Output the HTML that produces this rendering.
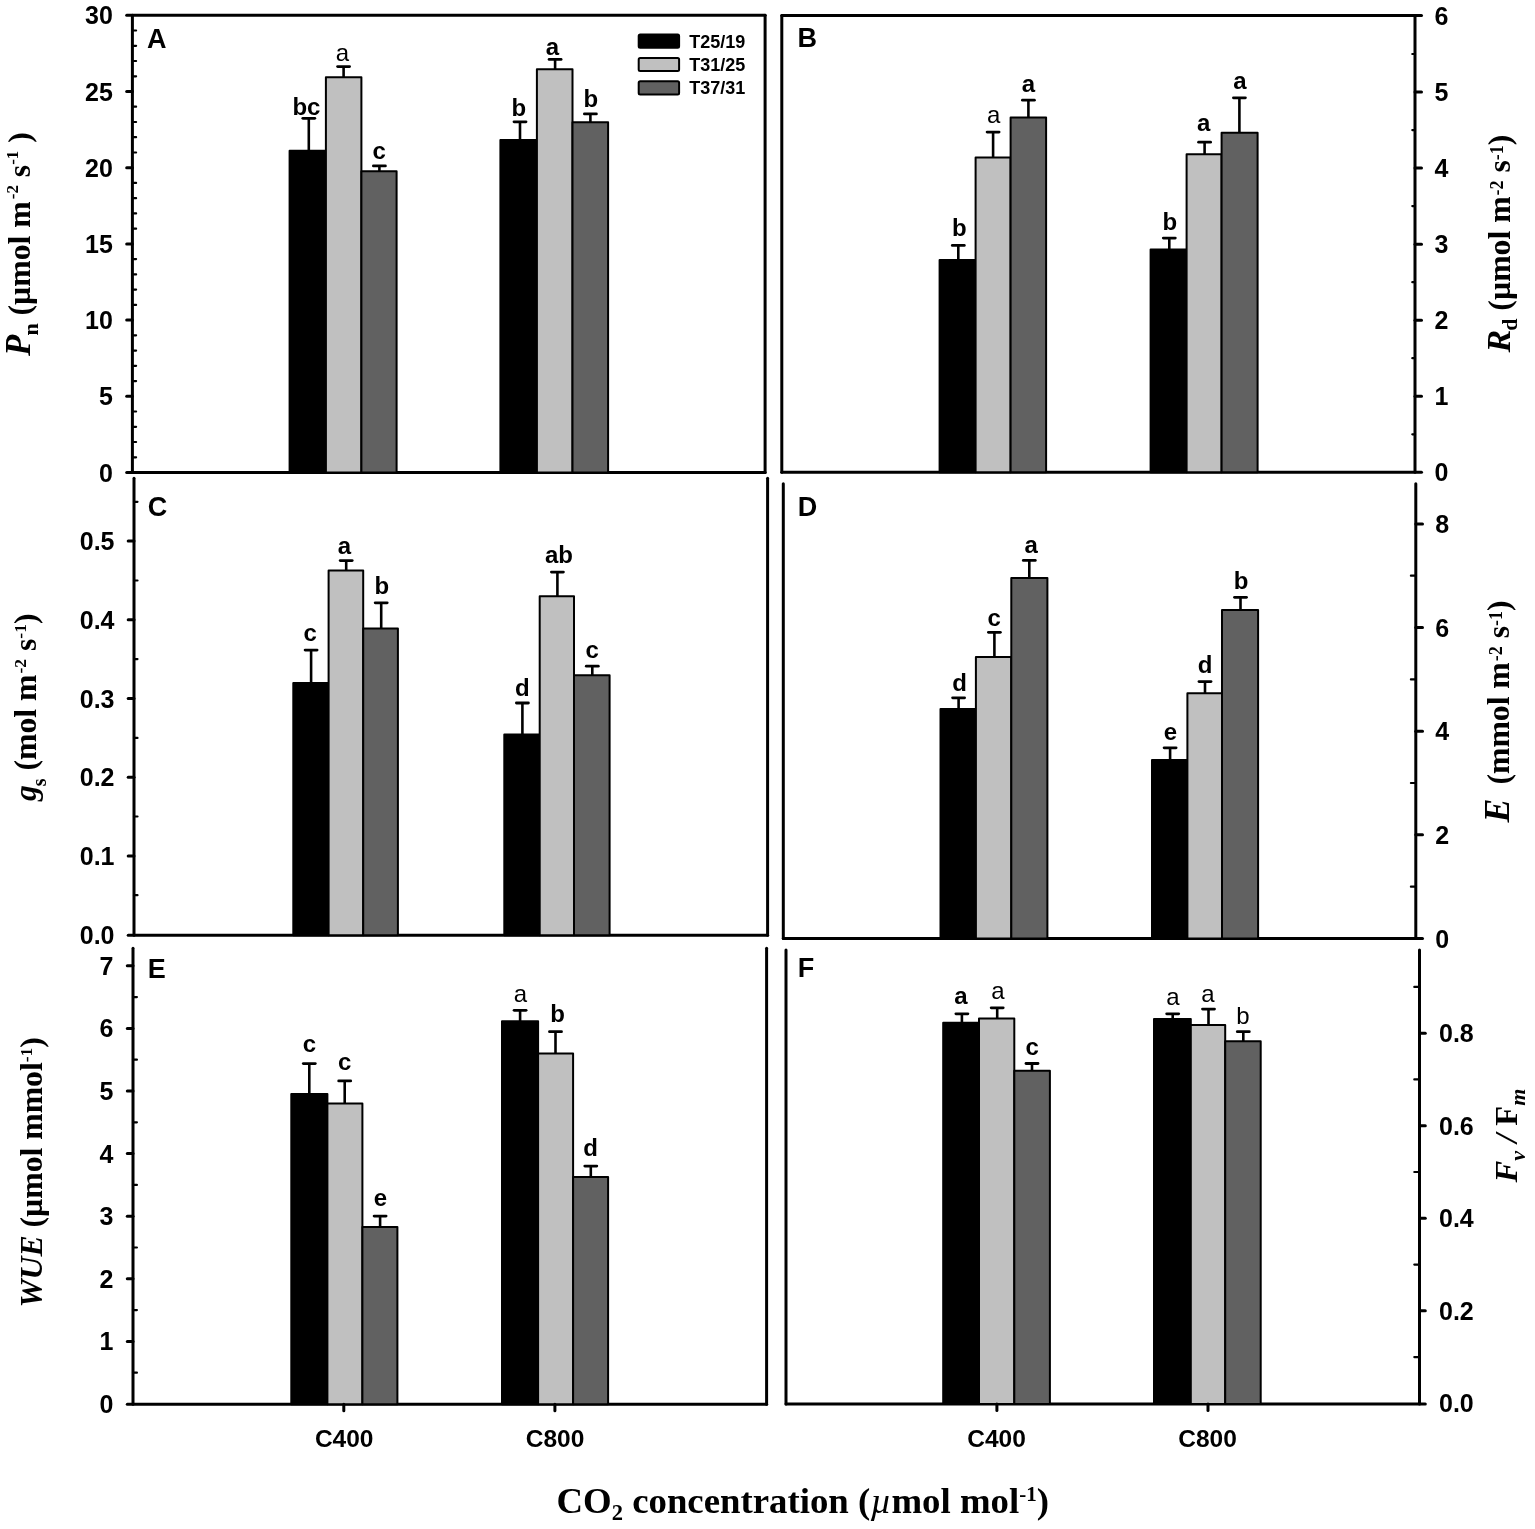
<!DOCTYPE html>
<html><head><meta charset="utf-8"><title>Figure</title>
<style>
html,body{margin:0;padding:0;background:#fff;}
body{width:1535px;height:1529px;overflow:hidden;}
svg{display:block;}
text{fill:#000;}
</style></head>
<body>
<svg width="1535" height="1529" viewBox="0 0 1535 1529">
<rect x="0" y="0" width="1535" height="1529" fill="#fff"/>
<line x1="132.4" y1="15.3" x2="132.4" y2="472.5" stroke="#000" stroke-width="3.0" stroke-linecap="round"/>
<line x1="765.1" y1="15.3" x2="765.1" y2="472.5" stroke="#000" stroke-width="3.0" stroke-linecap="round"/>
<line x1="126.7" y1="472.5" x2="765.1" y2="472.5" stroke="#000" stroke-width="3.0" stroke-linecap="round"/>
<line x1="126.7" y1="15.3" x2="765.1" y2="15.3" stroke="#000" stroke-width="3.0" stroke-linecap="round"/>
<text x="112.9" y="481.5" font-size="25" text-anchor="end" font-weight="bold" font-family="'Liberation Sans', Arial, sans-serif" >0</text>
<line x1="132.4" y1="457.3" x2="136.1" y2="457.3" stroke="#000" stroke-width="2.2" stroke-linecap="round"/>
<line x1="132.4" y1="442.0" x2="136.1" y2="442.0" stroke="#000" stroke-width="2.2" stroke-linecap="round"/>
<line x1="132.4" y1="426.8" x2="136.1" y2="426.8" stroke="#000" stroke-width="2.2" stroke-linecap="round"/>
<line x1="132.4" y1="411.5" x2="136.1" y2="411.5" stroke="#000" stroke-width="2.2" stroke-linecap="round"/>
<line x1="132.4" y1="396.3" x2="126.7" y2="396.3" stroke="#000" stroke-width="3.0" stroke-linecap="round"/>
<text x="112.9" y="405.3" font-size="25" text-anchor="end" font-weight="bold" font-family="'Liberation Sans', Arial, sans-serif" >5</text>
<line x1="132.4" y1="381.1" x2="136.1" y2="381.1" stroke="#000" stroke-width="2.2" stroke-linecap="round"/>
<line x1="132.4" y1="365.8" x2="136.1" y2="365.8" stroke="#000" stroke-width="2.2" stroke-linecap="round"/>
<line x1="132.4" y1="350.6" x2="136.1" y2="350.6" stroke="#000" stroke-width="2.2" stroke-linecap="round"/>
<line x1="132.4" y1="335.3" x2="136.1" y2="335.3" stroke="#000" stroke-width="2.2" stroke-linecap="round"/>
<line x1="132.4" y1="320.1" x2="126.7" y2="320.1" stroke="#000" stroke-width="3.0" stroke-linecap="round"/>
<text x="112.9" y="329.1" font-size="25" text-anchor="end" font-weight="bold" font-family="'Liberation Sans', Arial, sans-serif" >10</text>
<line x1="132.4" y1="304.9" x2="136.1" y2="304.9" stroke="#000" stroke-width="2.2" stroke-linecap="round"/>
<line x1="132.4" y1="289.6" x2="136.1" y2="289.6" stroke="#000" stroke-width="2.2" stroke-linecap="round"/>
<line x1="132.4" y1="274.4" x2="136.1" y2="274.4" stroke="#000" stroke-width="2.2" stroke-linecap="round"/>
<line x1="132.4" y1="259.1" x2="136.1" y2="259.1" stroke="#000" stroke-width="2.2" stroke-linecap="round"/>
<line x1="132.4" y1="243.9" x2="126.7" y2="243.9" stroke="#000" stroke-width="3.0" stroke-linecap="round"/>
<text x="112.9" y="252.9" font-size="25" text-anchor="end" font-weight="bold" font-family="'Liberation Sans', Arial, sans-serif" >15</text>
<line x1="132.4" y1="228.7" x2="136.1" y2="228.7" stroke="#000" stroke-width="2.2" stroke-linecap="round"/>
<line x1="132.4" y1="213.4" x2="136.1" y2="213.4" stroke="#000" stroke-width="2.2" stroke-linecap="round"/>
<line x1="132.4" y1="198.2" x2="136.1" y2="198.2" stroke="#000" stroke-width="2.2" stroke-linecap="round"/>
<line x1="132.4" y1="182.9" x2="136.1" y2="182.9" stroke="#000" stroke-width="2.2" stroke-linecap="round"/>
<line x1="132.4" y1="167.7" x2="126.7" y2="167.7" stroke="#000" stroke-width="3.0" stroke-linecap="round"/>
<text x="112.9" y="176.7" font-size="25" text-anchor="end" font-weight="bold" font-family="'Liberation Sans', Arial, sans-serif" >20</text>
<line x1="132.4" y1="152.5" x2="136.1" y2="152.5" stroke="#000" stroke-width="2.2" stroke-linecap="round"/>
<line x1="132.4" y1="137.2" x2="136.1" y2="137.2" stroke="#000" stroke-width="2.2" stroke-linecap="round"/>
<line x1="132.4" y1="122.0" x2="136.1" y2="122.0" stroke="#000" stroke-width="2.2" stroke-linecap="round"/>
<line x1="132.4" y1="106.7" x2="136.1" y2="106.7" stroke="#000" stroke-width="2.2" stroke-linecap="round"/>
<line x1="132.4" y1="91.5" x2="126.7" y2="91.5" stroke="#000" stroke-width="3.0" stroke-linecap="round"/>
<text x="112.9" y="100.5" font-size="25" text-anchor="end" font-weight="bold" font-family="'Liberation Sans', Arial, sans-serif" >25</text>
<line x1="132.4" y1="76.3" x2="136.1" y2="76.3" stroke="#000" stroke-width="2.2" stroke-linecap="round"/>
<line x1="132.4" y1="61.0" x2="136.1" y2="61.0" stroke="#000" stroke-width="2.2" stroke-linecap="round"/>
<line x1="132.4" y1="45.8" x2="136.1" y2="45.8" stroke="#000" stroke-width="2.2" stroke-linecap="round"/>
<line x1="132.4" y1="30.5" x2="136.1" y2="30.5" stroke="#000" stroke-width="2.2" stroke-linecap="round"/>
<text x="112.9" y="24.3" font-size="25" text-anchor="end" font-weight="bold" font-family="'Liberation Sans', Arial, sans-serif" >30</text>
<text x="147.0" y="47.7" font-size="27" text-anchor="start" font-weight="bold" font-family="'Liberation Sans', Arial, sans-serif" >A</text>
<line x1="781.8" y1="15.5" x2="781.8" y2="472.3" stroke="#000" stroke-width="3.0" stroke-linecap="round"/>
<line x1="1415.0" y1="15.5" x2="1415.0" y2="472.3" stroke="#000" stroke-width="3.0" stroke-linecap="round"/>
<line x1="781.8" y1="472.3" x2="1421.5" y2="472.3" stroke="#000" stroke-width="3.0" stroke-linecap="round"/>
<line x1="781.8" y1="15.5" x2="1421.5" y2="15.5" stroke="#000" stroke-width="3.0" stroke-linecap="round"/>
<text x="1434.5" y="481.3" font-size="25" text-anchor="start" font-weight="bold" font-family="'Liberation Sans', Arial, sans-serif" >0</text>
<line x1="1415.0" y1="434.3" x2="1412.3" y2="434.3" stroke="#000" stroke-width="2.2" stroke-linecap="round"/>
<line x1="1415.0" y1="396.2" x2="1421.5" y2="396.2" stroke="#000" stroke-width="3.0" stroke-linecap="round"/>
<text x="1434.5" y="405.2" font-size="25" text-anchor="start" font-weight="bold" font-family="'Liberation Sans', Arial, sans-serif" >1</text>
<line x1="1415.0" y1="358.2" x2="1412.3" y2="358.2" stroke="#000" stroke-width="2.2" stroke-linecap="round"/>
<line x1="1415.0" y1="320.2" x2="1421.5" y2="320.2" stroke="#000" stroke-width="3.0" stroke-linecap="round"/>
<text x="1434.5" y="329.2" font-size="25" text-anchor="start" font-weight="bold" font-family="'Liberation Sans', Arial, sans-serif" >2</text>
<line x1="1415.0" y1="282.2" x2="1412.3" y2="282.2" stroke="#000" stroke-width="2.2" stroke-linecap="round"/>
<line x1="1415.0" y1="244.2" x2="1421.5" y2="244.2" stroke="#000" stroke-width="3.0" stroke-linecap="round"/>
<text x="1434.5" y="253.2" font-size="25" text-anchor="start" font-weight="bold" font-family="'Liberation Sans', Arial, sans-serif" >3</text>
<line x1="1415.0" y1="206.1" x2="1412.3" y2="206.1" stroke="#000" stroke-width="2.2" stroke-linecap="round"/>
<line x1="1415.0" y1="168.1" x2="1421.5" y2="168.1" stroke="#000" stroke-width="3.0" stroke-linecap="round"/>
<text x="1434.5" y="177.1" font-size="25" text-anchor="start" font-weight="bold" font-family="'Liberation Sans', Arial, sans-serif" >4</text>
<line x1="1415.0" y1="130.1" x2="1412.3" y2="130.1" stroke="#000" stroke-width="2.2" stroke-linecap="round"/>
<line x1="1415.0" y1="92.1" x2="1421.5" y2="92.1" stroke="#000" stroke-width="3.0" stroke-linecap="round"/>
<text x="1434.5" y="101.1" font-size="25" text-anchor="start" font-weight="bold" font-family="'Liberation Sans', Arial, sans-serif" >5</text>
<line x1="1415.0" y1="54.0" x2="1412.3" y2="54.0" stroke="#000" stroke-width="2.2" stroke-linecap="round"/>
<text x="1434.5" y="25.0" font-size="25" text-anchor="start" font-weight="bold" font-family="'Liberation Sans', Arial, sans-serif" >6</text>
<text x="797.4" y="47.4" font-size="27" text-anchor="start" font-weight="bold" font-family="'Liberation Sans', Arial, sans-serif" >B</text>
<line x1="134.0" y1="478.3" x2="134.0" y2="935.2" stroke="#000" stroke-width="3.0" stroke-linecap="round"/>
<line x1="767.6" y1="478.3" x2="767.6" y2="935.2" stroke="#000" stroke-width="3.0" stroke-linecap="round"/>
<line x1="128.2" y1="935.2" x2="767.6" y2="935.2" stroke="#000" stroke-width="3.0" stroke-linecap="round"/>
<text x="114.5" y="943.6" font-size="25" text-anchor="end" font-weight="bold" font-family="'Liberation Sans', Arial, sans-serif" >0.0</text>
<line x1="134.0" y1="895.2" x2="137.5" y2="895.2" stroke="#000" stroke-width="2.2" stroke-linecap="round"/>
<line x1="134.0" y1="855.9" x2="128.2" y2="855.9" stroke="#000" stroke-width="3.0" stroke-linecap="round"/>
<text x="114.5" y="864.9" font-size="25" text-anchor="end" font-weight="bold" font-family="'Liberation Sans', Arial, sans-serif" >0.1</text>
<line x1="134.0" y1="816.5" x2="137.5" y2="816.5" stroke="#000" stroke-width="2.2" stroke-linecap="round"/>
<line x1="134.0" y1="777.2" x2="128.2" y2="777.2" stroke="#000" stroke-width="3.0" stroke-linecap="round"/>
<text x="114.5" y="786.2" font-size="25" text-anchor="end" font-weight="bold" font-family="'Liberation Sans', Arial, sans-serif" >0.2</text>
<line x1="134.0" y1="737.9" x2="137.5" y2="737.9" stroke="#000" stroke-width="2.2" stroke-linecap="round"/>
<line x1="134.0" y1="698.5" x2="128.2" y2="698.5" stroke="#000" stroke-width="3.0" stroke-linecap="round"/>
<text x="114.5" y="707.5" font-size="25" text-anchor="end" font-weight="bold" font-family="'Liberation Sans', Arial, sans-serif" >0.3</text>
<line x1="134.0" y1="659.1" x2="137.5" y2="659.1" stroke="#000" stroke-width="2.2" stroke-linecap="round"/>
<line x1="134.0" y1="619.8" x2="128.2" y2="619.8" stroke="#000" stroke-width="3.0" stroke-linecap="round"/>
<text x="114.5" y="628.8" font-size="25" text-anchor="end" font-weight="bold" font-family="'Liberation Sans', Arial, sans-serif" >0.4</text>
<line x1="134.0" y1="580.5" x2="137.5" y2="580.5" stroke="#000" stroke-width="2.2" stroke-linecap="round"/>
<line x1="134.0" y1="541.1" x2="128.2" y2="541.1" stroke="#000" stroke-width="3.0" stroke-linecap="round"/>
<text x="114.5" y="550.1" font-size="25" text-anchor="end" font-weight="bold" font-family="'Liberation Sans', Arial, sans-serif" >0.5</text>
<line x1="134.0" y1="501.8" x2="137.5" y2="501.8" stroke="#000" stroke-width="2.2" stroke-linecap="round"/>
<text x="147.7" y="515.9" font-size="27" text-anchor="start" font-weight="bold" font-family="'Liberation Sans', Arial, sans-serif" >C</text>
<line x1="783.3" y1="483.8" x2="783.3" y2="938.6" stroke="#000" stroke-width="3.0" stroke-linecap="round"/>
<line x1="1415.8" y1="483.8" x2="1415.8" y2="938.6" stroke="#000" stroke-width="3.0" stroke-linecap="round"/>
<line x1="783.3" y1="938.6" x2="1422.5" y2="938.6" stroke="#000" stroke-width="3.0" stroke-linecap="round"/>
<text x="1435.3" y="947.5" font-size="25" text-anchor="start" font-weight="bold" font-family="'Liberation Sans', Arial, sans-serif" >0</text>
<line x1="1415.8" y1="886.7" x2="1410.9" y2="886.7" stroke="#000" stroke-width="2.2" stroke-linecap="round"/>
<line x1="1415.8" y1="834.8" x2="1422.5" y2="834.8" stroke="#000" stroke-width="3.0" stroke-linecap="round"/>
<text x="1435.3" y="843.8" font-size="25" text-anchor="start" font-weight="bold" font-family="'Liberation Sans', Arial, sans-serif" >2</text>
<line x1="1415.8" y1="783.0" x2="1410.9" y2="783.0" stroke="#000" stroke-width="2.2" stroke-linecap="round"/>
<line x1="1415.8" y1="731.2" x2="1422.5" y2="731.2" stroke="#000" stroke-width="3.0" stroke-linecap="round"/>
<text x="1435.3" y="740.2" font-size="25" text-anchor="start" font-weight="bold" font-family="'Liberation Sans', Arial, sans-serif" >4</text>
<line x1="1415.8" y1="679.4" x2="1410.9" y2="679.4" stroke="#000" stroke-width="2.2" stroke-linecap="round"/>
<line x1="1415.8" y1="627.5" x2="1422.5" y2="627.5" stroke="#000" stroke-width="3.0" stroke-linecap="round"/>
<text x="1435.3" y="636.5" font-size="25" text-anchor="start" font-weight="bold" font-family="'Liberation Sans', Arial, sans-serif" >6</text>
<line x1="1415.8" y1="575.7" x2="1410.9" y2="575.7" stroke="#000" stroke-width="2.2" stroke-linecap="round"/>
<line x1="1415.8" y1="523.9" x2="1422.5" y2="523.9" stroke="#000" stroke-width="3.0" stroke-linecap="round"/>
<text x="1435.3" y="532.9" font-size="25" text-anchor="start" font-weight="bold" font-family="'Liberation Sans', Arial, sans-serif" >8</text>
<text x="797.7" y="515.7" font-size="27" text-anchor="start" font-weight="bold" font-family="'Liberation Sans', Arial, sans-serif" >D</text>
<line x1="133.0" y1="948.2" x2="133.0" y2="1404.3" stroke="#000" stroke-width="3.0" stroke-linecap="round"/>
<line x1="766.6" y1="948.2" x2="766.6" y2="1404.3" stroke="#000" stroke-width="3.0" stroke-linecap="round"/>
<line x1="127.3" y1="1404.3" x2="766.6" y2="1404.3" stroke="#000" stroke-width="3.0" stroke-linecap="round"/>
<text x="113.5" y="1413.0" font-size="25" text-anchor="end" font-weight="bold" font-family="'Liberation Sans', Arial, sans-serif" >0</text>
<line x1="133.0" y1="1372.7" x2="136.9" y2="1372.7" stroke="#000" stroke-width="2.2" stroke-linecap="round"/>
<line x1="133.0" y1="1341.4" x2="127.3" y2="1341.4" stroke="#000" stroke-width="3.0" stroke-linecap="round"/>
<text x="113.5" y="1350.4" font-size="25" text-anchor="end" font-weight="bold" font-family="'Liberation Sans', Arial, sans-serif" >1</text>
<line x1="133.0" y1="1310.1" x2="136.9" y2="1310.1" stroke="#000" stroke-width="2.2" stroke-linecap="round"/>
<line x1="133.0" y1="1278.8" x2="127.3" y2="1278.8" stroke="#000" stroke-width="3.0" stroke-linecap="round"/>
<text x="113.5" y="1287.8" font-size="25" text-anchor="end" font-weight="bold" font-family="'Liberation Sans', Arial, sans-serif" >2</text>
<line x1="133.0" y1="1247.5" x2="136.9" y2="1247.5" stroke="#000" stroke-width="2.2" stroke-linecap="round"/>
<line x1="133.0" y1="1216.2" x2="127.3" y2="1216.2" stroke="#000" stroke-width="3.0" stroke-linecap="round"/>
<text x="113.5" y="1225.2" font-size="25" text-anchor="end" font-weight="bold" font-family="'Liberation Sans', Arial, sans-serif" >3</text>
<line x1="133.0" y1="1184.9" x2="136.9" y2="1184.9" stroke="#000" stroke-width="2.2" stroke-linecap="round"/>
<line x1="133.0" y1="1153.6" x2="127.3" y2="1153.6" stroke="#000" stroke-width="3.0" stroke-linecap="round"/>
<text x="113.5" y="1162.6" font-size="25" text-anchor="end" font-weight="bold" font-family="'Liberation Sans', Arial, sans-serif" >4</text>
<line x1="133.0" y1="1122.3" x2="136.9" y2="1122.3" stroke="#000" stroke-width="2.2" stroke-linecap="round"/>
<line x1="133.0" y1="1091.0" x2="127.3" y2="1091.0" stroke="#000" stroke-width="3.0" stroke-linecap="round"/>
<text x="113.5" y="1100.0" font-size="25" text-anchor="end" font-weight="bold" font-family="'Liberation Sans', Arial, sans-serif" >5</text>
<line x1="133.0" y1="1059.7" x2="136.9" y2="1059.7" stroke="#000" stroke-width="2.2" stroke-linecap="round"/>
<line x1="133.0" y1="1028.4" x2="127.3" y2="1028.4" stroke="#000" stroke-width="3.0" stroke-linecap="round"/>
<text x="113.5" y="1037.4" font-size="25" text-anchor="end" font-weight="bold" font-family="'Liberation Sans', Arial, sans-serif" >6</text>
<line x1="133.0" y1="997.1" x2="136.9" y2="997.1" stroke="#000" stroke-width="2.2" stroke-linecap="round"/>
<line x1="133.0" y1="965.8" x2="127.3" y2="965.8" stroke="#000" stroke-width="3.0" stroke-linecap="round"/>
<text x="113.5" y="974.8" font-size="25" text-anchor="end" font-weight="bold" font-family="'Liberation Sans', Arial, sans-serif" >7</text>
<text x="147.8" y="977.5" font-size="27" text-anchor="start" font-weight="bold" font-family="'Liberation Sans', Arial, sans-serif" >E</text>
<line x1="786.0" y1="949.9" x2="786.0" y2="1404.0" stroke="#000" stroke-width="3.0" stroke-linecap="round"/>
<line x1="1419.5" y1="949.9" x2="1419.5" y2="1404.0" stroke="#000" stroke-width="3.0" stroke-linecap="round"/>
<line x1="786.0" y1="1404.0" x2="1425.3" y2="1404.0" stroke="#000" stroke-width="3.0" stroke-linecap="round"/>
<text x="1439.0" y="1412.4" font-size="25" text-anchor="start" font-weight="bold" font-family="'Liberation Sans', Arial, sans-serif" >0.0</text>
<line x1="1419.5" y1="1357.1" x2="1414.3" y2="1357.1" stroke="#000" stroke-width="2.2" stroke-linecap="round"/>
<line x1="1419.5" y1="1310.8" x2="1425.3" y2="1310.8" stroke="#000" stroke-width="3.0" stroke-linecap="round"/>
<text x="1439.0" y="1319.8" font-size="25" text-anchor="start" font-weight="bold" font-family="'Liberation Sans', Arial, sans-serif" >0.2</text>
<line x1="1419.5" y1="1264.6" x2="1414.3" y2="1264.6" stroke="#000" stroke-width="2.2" stroke-linecap="round"/>
<line x1="1419.5" y1="1218.3" x2="1425.3" y2="1218.3" stroke="#000" stroke-width="3.0" stroke-linecap="round"/>
<text x="1439.0" y="1227.3" font-size="25" text-anchor="start" font-weight="bold" font-family="'Liberation Sans', Arial, sans-serif" >0.4</text>
<line x1="1419.5" y1="1172.0" x2="1414.3" y2="1172.0" stroke="#000" stroke-width="2.2" stroke-linecap="round"/>
<line x1="1419.5" y1="1125.7" x2="1425.3" y2="1125.7" stroke="#000" stroke-width="3.0" stroke-linecap="round"/>
<text x="1439.0" y="1134.7" font-size="25" text-anchor="start" font-weight="bold" font-family="'Liberation Sans', Arial, sans-serif" >0.6</text>
<line x1="1419.5" y1="1079.4" x2="1414.3" y2="1079.4" stroke="#000" stroke-width="2.2" stroke-linecap="round"/>
<line x1="1419.5" y1="1033.2" x2="1425.3" y2="1033.2" stroke="#000" stroke-width="3.0" stroke-linecap="round"/>
<text x="1439.0" y="1042.2" font-size="25" text-anchor="start" font-weight="bold" font-family="'Liberation Sans', Arial, sans-serif" >0.8</text>
<line x1="1419.5" y1="986.9" x2="1414.3" y2="986.9" stroke="#000" stroke-width="2.2" stroke-linecap="round"/>
<text x="797.7" y="977.2" font-size="27" text-anchor="start" font-weight="bold" font-family="'Liberation Sans', Arial, sans-serif" >F</text>
<line x1="308.8" y1="150.7" x2="308.8" y2="118.3" stroke="#000" stroke-width="2.6" stroke-linecap="butt"/>
<line x1="302.8" y1="118.3" x2="314.8" y2="118.3" stroke="#000" stroke-width="2.8" stroke-linecap="round"/>
<rect x="289.6" y="150.7" width="36.3" height="321.8" fill="#000" stroke="#000" stroke-width="2.0" stroke-linejoin="round"/>
<text x="306.4" y="114.9" font-size="24" text-anchor="middle" font-weight="bold" font-family="'Liberation Sans', Arial, sans-serif" >bc</text>
<line x1="343.6" y1="77.3" x2="343.6" y2="66.6" stroke="#000" stroke-width="2.6" stroke-linecap="butt"/>
<line x1="337.6" y1="66.6" x2="349.6" y2="66.6" stroke="#000" stroke-width="2.8" stroke-linecap="round"/>
<rect x="325.9" y="77.3" width="35.5" height="395.2" fill="#c0c0c0" stroke="#000" stroke-width="2.0" stroke-linejoin="round"/>
<text x="342.4" y="61.4" font-size="24" text-anchor="middle" font-weight="normal" font-family="'Liberation Sans', Arial, sans-serif" >a</text>
<line x1="379.4" y1="171.3" x2="379.4" y2="165.9" stroke="#000" stroke-width="2.6" stroke-linecap="butt"/>
<line x1="373.4" y1="165.9" x2="385.4" y2="165.9" stroke="#000" stroke-width="2.8" stroke-linecap="round"/>
<rect x="361.4" y="171.3" width="35.2" height="301.2" fill="#616161" stroke="#000" stroke-width="2.0" stroke-linejoin="round"/>
<text x="379.2" y="158.6" font-size="24" text-anchor="middle" font-weight="bold" font-family="'Liberation Sans', Arial, sans-serif" >c</text>
<line x1="520.0" y1="139.9" x2="520.0" y2="121.8" stroke="#000" stroke-width="2.6" stroke-linecap="butt"/>
<line x1="514.0" y1="121.8" x2="526.0" y2="121.8" stroke="#000" stroke-width="2.8" stroke-linecap="round"/>
<rect x="500.4" y="139.9" width="36.5" height="332.6" fill="#000" stroke="#000" stroke-width="2.0" stroke-linejoin="round"/>
<text x="518.9" y="116.4" font-size="24" text-anchor="middle" font-weight="bold" font-family="'Liberation Sans', Arial, sans-serif" >b</text>
<line x1="555.1" y1="69.3" x2="555.1" y2="59.4" stroke="#000" stroke-width="2.6" stroke-linecap="butt"/>
<line x1="549.1" y1="59.4" x2="561.1" y2="59.4" stroke="#000" stroke-width="2.8" stroke-linecap="round"/>
<rect x="536.9" y="69.3" width="35.6" height="403.2" fill="#c0c0c0" stroke="#000" stroke-width="2.0" stroke-linejoin="round"/>
<text x="552.4" y="55.0" font-size="24" text-anchor="middle" font-weight="bold" font-family="'Liberation Sans', Arial, sans-serif" >a</text>
<line x1="590.4" y1="122.2" x2="590.4" y2="113.9" stroke="#000" stroke-width="2.6" stroke-linecap="butt"/>
<line x1="584.4" y1="113.9" x2="596.4" y2="113.9" stroke="#000" stroke-width="2.8" stroke-linecap="round"/>
<rect x="572.5" y="122.2" width="35.6" height="350.3" fill="#616161" stroke="#000" stroke-width="2.0" stroke-linejoin="round"/>
<text x="590.9" y="107.0" font-size="24" text-anchor="middle" font-weight="bold" font-family="'Liberation Sans', Arial, sans-serif" >b</text>
<line x1="958.3" y1="259.9" x2="958.3" y2="245.4" stroke="#000" stroke-width="2.6" stroke-linecap="butt"/>
<line x1="952.3" y1="245.4" x2="964.3" y2="245.4" stroke="#000" stroke-width="2.8" stroke-linecap="round"/>
<rect x="939.6" y="259.9" width="36.0" height="212.4" fill="#000" stroke="#000" stroke-width="2.0" stroke-linejoin="round"/>
<text x="959.3" y="236.1" font-size="24" text-anchor="middle" font-weight="bold" font-family="'Liberation Sans', Arial, sans-serif" >b</text>
<line x1="993.1" y1="157.6" x2="993.1" y2="132.1" stroke="#000" stroke-width="2.6" stroke-linecap="butt"/>
<line x1="987.1" y1="132.1" x2="999.1" y2="132.1" stroke="#000" stroke-width="2.8" stroke-linecap="round"/>
<rect x="975.6" y="157.6" width="35.0" height="314.7" fill="#c0c0c0" stroke="#000" stroke-width="2.0" stroke-linejoin="round"/>
<text x="993.6" y="122.8" font-size="24" text-anchor="middle" font-weight="normal" font-family="'Liberation Sans', Arial, sans-serif" >a</text>
<line x1="1028.4" y1="117.4" x2="1028.4" y2="100.2" stroke="#000" stroke-width="2.6" stroke-linecap="butt"/>
<line x1="1022.4" y1="100.2" x2="1034.4" y2="100.2" stroke="#000" stroke-width="2.8" stroke-linecap="round"/>
<rect x="1010.6" y="117.4" width="35.5" height="354.9" fill="#616161" stroke="#000" stroke-width="2.0" stroke-linejoin="round"/>
<text x="1028.5" y="91.9" font-size="24" text-anchor="middle" font-weight="bold" font-family="'Liberation Sans', Arial, sans-serif" >a</text>
<line x1="1169.3" y1="249.4" x2="1169.3" y2="238.1" stroke="#000" stroke-width="2.6" stroke-linecap="butt"/>
<line x1="1163.3" y1="238.1" x2="1175.3" y2="238.1" stroke="#000" stroke-width="2.8" stroke-linecap="round"/>
<rect x="1150.6" y="249.4" width="36.0" height="222.9" fill="#000" stroke="#000" stroke-width="2.0" stroke-linejoin="round"/>
<text x="1169.8" y="229.7" font-size="24" text-anchor="middle" font-weight="bold" font-family="'Liberation Sans', Arial, sans-serif" >b</text>
<line x1="1204.6" y1="154.2" x2="1204.6" y2="142.2" stroke="#000" stroke-width="2.6" stroke-linecap="butt"/>
<line x1="1198.6" y1="142.2" x2="1210.6" y2="142.2" stroke="#000" stroke-width="2.8" stroke-linecap="round"/>
<rect x="1186.6" y="154.2" width="35.0" height="318.1" fill="#c0c0c0" stroke="#000" stroke-width="2.0" stroke-linejoin="round"/>
<text x="1203.6" y="131.1" font-size="24" text-anchor="middle" font-weight="bold" font-family="'Liberation Sans', Arial, sans-serif" >a</text>
<line x1="1239.4" y1="132.8" x2="1239.4" y2="97.8" stroke="#000" stroke-width="2.6" stroke-linecap="butt"/>
<line x1="1233.4" y1="97.8" x2="1245.4" y2="97.8" stroke="#000" stroke-width="2.8" stroke-linecap="round"/>
<rect x="1221.6" y="132.8" width="36.0" height="339.5" fill="#616161" stroke="#000" stroke-width="2.0" stroke-linejoin="round"/>
<text x="1239.9" y="88.9" font-size="24" text-anchor="middle" font-weight="bold" font-family="'Liberation Sans', Arial, sans-serif" >a</text>
<line x1="311.1" y1="682.9" x2="311.1" y2="650.1" stroke="#000" stroke-width="2.6" stroke-linecap="butt"/>
<line x1="305.1" y1="650.1" x2="317.1" y2="650.1" stroke="#000" stroke-width="2.8" stroke-linecap="round"/>
<rect x="293.3" y="682.9" width="35.3" height="252.3" fill="#000" stroke="#000" stroke-width="2.0" stroke-linejoin="round"/>
<text x="310.3" y="641.2" font-size="24" text-anchor="middle" font-weight="bold" font-family="'Liberation Sans', Arial, sans-serif" >c</text>
<line x1="346.2" y1="570.6" x2="346.2" y2="560.6" stroke="#000" stroke-width="2.6" stroke-linecap="butt"/>
<line x1="340.2" y1="560.6" x2="352.2" y2="560.6" stroke="#000" stroke-width="2.8" stroke-linecap="round"/>
<rect x="328.6" y="570.6" width="34.6" height="364.6" fill="#c0c0c0" stroke="#000" stroke-width="2.0" stroke-linejoin="round"/>
<text x="344.5" y="553.9" font-size="24" text-anchor="middle" font-weight="bold" font-family="'Liberation Sans', Arial, sans-serif" >a</text>
<line x1="381.2" y1="628.4" x2="381.2" y2="602.8" stroke="#000" stroke-width="2.6" stroke-linecap="butt"/>
<line x1="375.2" y1="602.8" x2="387.2" y2="602.8" stroke="#000" stroke-width="2.8" stroke-linecap="round"/>
<rect x="363.2" y="628.4" width="34.7" height="306.8" fill="#616161" stroke="#000" stroke-width="2.0" stroke-linejoin="round"/>
<text x="381.8" y="593.9" font-size="24" text-anchor="middle" font-weight="bold" font-family="'Liberation Sans', Arial, sans-serif" >b</text>
<line x1="522.4" y1="734.6" x2="522.4" y2="703.0" stroke="#000" stroke-width="2.6" stroke-linecap="butt"/>
<line x1="516.4" y1="703.0" x2="528.4" y2="703.0" stroke="#000" stroke-width="2.8" stroke-linecap="round"/>
<rect x="504.3" y="734.6" width="35.4" height="200.6" fill="#000" stroke="#000" stroke-width="2.0" stroke-linejoin="round"/>
<text x="522.4" y="696.3" font-size="24" text-anchor="middle" font-weight="bold" font-family="'Liberation Sans', Arial, sans-serif" >d</text>
<line x1="557.4" y1="596.2" x2="557.4" y2="572.1" stroke="#000" stroke-width="2.6" stroke-linecap="butt"/>
<line x1="551.4" y1="572.1" x2="563.4" y2="572.1" stroke="#000" stroke-width="2.8" stroke-linecap="round"/>
<rect x="539.7" y="596.2" width="34.3" height="339.0" fill="#c0c0c0" stroke="#000" stroke-width="2.0" stroke-linejoin="round"/>
<text x="558.9" y="563.1" font-size="24" text-anchor="middle" font-weight="bold" font-family="'Liberation Sans', Arial, sans-serif" >ab</text>
<line x1="592.3" y1="675.2" x2="592.3" y2="666.2" stroke="#000" stroke-width="2.6" stroke-linecap="butt"/>
<line x1="586.3" y1="666.2" x2="598.3" y2="666.2" stroke="#000" stroke-width="2.8" stroke-linecap="round"/>
<rect x="574.0" y="675.2" width="35.6" height="260.0" fill="#616161" stroke="#000" stroke-width="2.0" stroke-linejoin="round"/>
<text x="592.3" y="657.9" font-size="24" text-anchor="middle" font-weight="bold" font-family="'Liberation Sans', Arial, sans-serif" >c</text>
<line x1="958.6" y1="709.1" x2="958.6" y2="697.8" stroke="#000" stroke-width="2.6" stroke-linecap="butt"/>
<line x1="952.6" y1="697.8" x2="964.6" y2="697.8" stroke="#000" stroke-width="2.8" stroke-linecap="round"/>
<rect x="940.5" y="709.1" width="35.4" height="229.5" fill="#000" stroke="#000" stroke-width="2.0" stroke-linejoin="round"/>
<text x="959.7" y="691.0" font-size="24" text-anchor="middle" font-weight="bold" font-family="'Liberation Sans', Arial, sans-serif" >d</text>
<line x1="994.4" y1="657.1" x2="994.4" y2="632.3" stroke="#000" stroke-width="2.6" stroke-linecap="butt"/>
<line x1="988.4" y1="632.3" x2="1000.4" y2="632.3" stroke="#000" stroke-width="2.8" stroke-linecap="round"/>
<rect x="975.9" y="657.1" width="35.4" height="281.5" fill="#c0c0c0" stroke="#000" stroke-width="2.0" stroke-linejoin="round"/>
<text x="994.3" y="626.3" font-size="24" text-anchor="middle" font-weight="bold" font-family="'Liberation Sans', Arial, sans-serif" >c</text>
<line x1="1029.3" y1="578.1" x2="1029.3" y2="560.4" stroke="#000" stroke-width="2.6" stroke-linecap="butt"/>
<line x1="1023.3" y1="560.4" x2="1035.3" y2="560.4" stroke="#000" stroke-width="2.8" stroke-linecap="round"/>
<rect x="1011.3" y="578.1" width="36.1" height="360.5" fill="#616161" stroke="#000" stroke-width="2.0" stroke-linejoin="round"/>
<text x="1031.2" y="553.3" font-size="24" text-anchor="middle" font-weight="bold" font-family="'Liberation Sans', Arial, sans-serif" >a</text>
<line x1="1170.1" y1="760.1" x2="1170.1" y2="747.8" stroke="#000" stroke-width="2.6" stroke-linecap="butt"/>
<line x1="1164.1" y1="747.8" x2="1176.1" y2="747.8" stroke="#000" stroke-width="2.8" stroke-linecap="round"/>
<rect x="1152.0" y="760.1" width="35.4" height="178.5" fill="#000" stroke="#000" stroke-width="2.0" stroke-linejoin="round"/>
<text x="1170.5" y="739.8" font-size="24" text-anchor="middle" font-weight="bold" font-family="'Liberation Sans', Arial, sans-serif" >e</text>
<line x1="1205.0" y1="693.2" x2="1205.0" y2="681.6" stroke="#000" stroke-width="2.6" stroke-linecap="butt"/>
<line x1="1199.0" y1="681.6" x2="1211.0" y2="681.6" stroke="#000" stroke-width="2.8" stroke-linecap="round"/>
<rect x="1187.4" y="693.2" width="34.6" height="245.4" fill="#c0c0c0" stroke="#000" stroke-width="2.0" stroke-linejoin="round"/>
<text x="1205.1" y="672.8" font-size="24" text-anchor="middle" font-weight="bold" font-family="'Liberation Sans', Arial, sans-serif" >d</text>
<line x1="1240.5" y1="610.0" x2="1240.5" y2="597.3" stroke="#000" stroke-width="2.6" stroke-linecap="butt"/>
<line x1="1234.5" y1="597.3" x2="1246.5" y2="597.3" stroke="#000" stroke-width="2.8" stroke-linecap="round"/>
<rect x="1222.0" y="610.0" width="36.1" height="328.6" fill="#616161" stroke="#000" stroke-width="2.0" stroke-linejoin="round"/>
<text x="1241.2" y="589.3" font-size="24" text-anchor="middle" font-weight="bold" font-family="'Liberation Sans', Arial, sans-serif" >b</text>
<line x1="309.3" y1="1094.0" x2="309.3" y2="1063.6" stroke="#000" stroke-width="2.6" stroke-linecap="butt"/>
<line x1="303.3" y1="1063.6" x2="315.3" y2="1063.6" stroke="#000" stroke-width="2.8" stroke-linecap="round"/>
<rect x="291.3" y="1094.0" width="36.1" height="310.3" fill="#000" stroke="#000" stroke-width="2.0" stroke-linejoin="round"/>
<text x="309.4" y="1052.4" font-size="24" text-anchor="middle" font-weight="bold" font-family="'Liberation Sans', Arial, sans-serif" >c</text>
<line x1="344.7" y1="1103.5" x2="344.7" y2="1080.9" stroke="#000" stroke-width="2.6" stroke-linecap="butt"/>
<line x1="338.7" y1="1080.9" x2="350.7" y2="1080.9" stroke="#000" stroke-width="2.8" stroke-linecap="round"/>
<rect x="327.4" y="1103.5" width="35.0" height="300.8" fill="#c0c0c0" stroke="#000" stroke-width="2.0" stroke-linejoin="round"/>
<text x="344.7" y="1070.4" font-size="24" text-anchor="middle" font-weight="bold" font-family="'Liberation Sans', Arial, sans-serif" >c</text>
<line x1="380.1" y1="1226.9" x2="380.1" y2="1216.1" stroke="#000" stroke-width="2.6" stroke-linecap="butt"/>
<line x1="374.1" y1="1216.1" x2="386.1" y2="1216.1" stroke="#000" stroke-width="2.8" stroke-linecap="round"/>
<rect x="362.4" y="1226.9" width="35.0" height="177.4" fill="#616161" stroke="#000" stroke-width="2.0" stroke-linejoin="round"/>
<text x="380.4" y="1205.8" font-size="24" text-anchor="middle" font-weight="bold" font-family="'Liberation Sans', Arial, sans-serif" >e</text>
<line x1="520.1" y1="1021.2" x2="520.1" y2="1010.3" stroke="#000" stroke-width="2.6" stroke-linecap="butt"/>
<line x1="514.1" y1="1010.3" x2="526.1" y2="1010.3" stroke="#000" stroke-width="2.8" stroke-linecap="round"/>
<rect x="502.0" y="1021.2" width="36.1" height="383.1" fill="#000" stroke="#000" stroke-width="2.0" stroke-linejoin="round"/>
<text x="520.5" y="1002.4" font-size="24" text-anchor="middle" font-weight="normal" font-family="'Liberation Sans', Arial, sans-serif" >a</text>
<line x1="555.5" y1="1053.5" x2="555.5" y2="1031.7" stroke="#000" stroke-width="2.6" stroke-linecap="butt"/>
<line x1="549.5" y1="1031.7" x2="561.5" y2="1031.7" stroke="#000" stroke-width="2.8" stroke-linecap="round"/>
<rect x="538.1" y="1053.5" width="35.0" height="350.8" fill="#c0c0c0" stroke="#000" stroke-width="2.0" stroke-linejoin="round"/>
<text x="557.7" y="1021.9" font-size="24" text-anchor="middle" font-weight="bold" font-family="'Liberation Sans', Arial, sans-serif" >b</text>
<line x1="590.8" y1="1176.9" x2="590.8" y2="1166.1" stroke="#000" stroke-width="2.6" stroke-linecap="butt"/>
<line x1="584.8" y1="1166.1" x2="596.8" y2="1166.1" stroke="#000" stroke-width="2.8" stroke-linecap="round"/>
<rect x="573.1" y="1176.9" width="35.0" height="227.4" fill="#616161" stroke="#000" stroke-width="2.0" stroke-linejoin="round"/>
<text x="590.5" y="1155.8" font-size="24" text-anchor="middle" font-weight="bold" font-family="'Liberation Sans', Arial, sans-serif" >d</text>
<line x1="961.9" y1="1022.7" x2="961.9" y2="1013.8" stroke="#000" stroke-width="2.6" stroke-linecap="butt"/>
<line x1="955.9" y1="1013.8" x2="967.9" y2="1013.8" stroke="#000" stroke-width="2.8" stroke-linecap="round"/>
<rect x="943.2" y="1022.7" width="35.8" height="381.3" fill="#000" stroke="#000" stroke-width="2.0" stroke-linejoin="round"/>
<text x="961.0" y="1004.0" font-size="24" text-anchor="middle" font-weight="bold" font-family="'Liberation Sans', Arial, sans-serif" >a</text>
<line x1="997.2" y1="1018.5" x2="997.2" y2="1007.8" stroke="#000" stroke-width="2.6" stroke-linecap="butt"/>
<line x1="991.2" y1="1007.8" x2="1003.2" y2="1007.8" stroke="#000" stroke-width="2.8" stroke-linecap="round"/>
<rect x="979.0" y="1018.5" width="35.3" height="385.5" fill="#c0c0c0" stroke="#000" stroke-width="2.0" stroke-linejoin="round"/>
<text x="997.9" y="998.5" font-size="24" text-anchor="middle" font-weight="normal" font-family="'Liberation Sans', Arial, sans-serif" >a</text>
<line x1="1032.0" y1="1070.8" x2="1032.0" y2="1063.5" stroke="#000" stroke-width="2.6" stroke-linecap="butt"/>
<line x1="1026.0" y1="1063.5" x2="1038.0" y2="1063.5" stroke="#000" stroke-width="2.8" stroke-linecap="round"/>
<rect x="1014.3" y="1070.8" width="35.6" height="333.2" fill="#616161" stroke="#000" stroke-width="2.0" stroke-linejoin="round"/>
<text x="1032.3" y="1054.6" font-size="24" text-anchor="middle" font-weight="bold" font-family="'Liberation Sans', Arial, sans-serif" >c</text>
<line x1="1172.7" y1="1019.1" x2="1172.7" y2="1013.8" stroke="#000" stroke-width="2.6" stroke-linecap="butt"/>
<line x1="1166.7" y1="1013.8" x2="1178.7" y2="1013.8" stroke="#000" stroke-width="2.8" stroke-linecap="round"/>
<rect x="1154.0" y="1019.1" width="36.8" height="384.9" fill="#000" stroke="#000" stroke-width="2.0" stroke-linejoin="round"/>
<text x="1173.0" y="1005.3" font-size="24" text-anchor="middle" font-weight="normal" font-family="'Liberation Sans', Arial, sans-serif" >a</text>
<line x1="1208.5" y1="1025.1" x2="1208.5" y2="1009.1" stroke="#000" stroke-width="2.6" stroke-linecap="butt"/>
<line x1="1202.5" y1="1009.1" x2="1214.5" y2="1009.1" stroke="#000" stroke-width="2.8" stroke-linecap="round"/>
<rect x="1190.8" y="1025.1" width="34.4" height="378.9" fill="#c0c0c0" stroke="#000" stroke-width="2.0" stroke-linejoin="round"/>
<text x="1207.9" y="1001.9" font-size="24" text-anchor="middle" font-weight="normal" font-family="'Liberation Sans', Arial, sans-serif" >a</text>
<line x1="1243.3" y1="1041.3" x2="1243.3" y2="1031.7" stroke="#000" stroke-width="2.6" stroke-linecap="butt"/>
<line x1="1237.3" y1="1031.7" x2="1249.3" y2="1031.7" stroke="#000" stroke-width="2.8" stroke-linecap="round"/>
<rect x="1225.2" y="1041.3" width="35.5" height="362.7" fill="#616161" stroke="#000" stroke-width="2.0" stroke-linejoin="round"/>
<text x="1242.9" y="1024.0" font-size="24" text-anchor="middle" font-weight="normal" font-family="'Liberation Sans', Arial, sans-serif" >b</text>
<rect x="638.7" y="34.6" width="40.4" height="13.2" rx="1.5" fill="#000" stroke="#000" stroke-width="2"/>
<text x="689.3" y="47.8" font-size="18" text-anchor="start" font-weight="bold" font-family="'Liberation Sans', Arial, sans-serif" >T25/19</text>
<rect x="638.7" y="57.9" width="40.4" height="13.2" rx="1.5" fill="#c0c0c0" stroke="#000" stroke-width="2"/>
<text x="689.3" y="71.1" font-size="18" text-anchor="start" font-weight="bold" font-family="'Liberation Sans', Arial, sans-serif" >T31/25</text>
<rect x="638.7" y="81.2" width="40.4" height="13.2" rx="1.5" fill="#616161" stroke="#000" stroke-width="2"/>
<text x="689.3" y="94.4" font-size="18" text-anchor="start" font-weight="bold" font-family="'Liberation Sans', Arial, sans-serif" >T37/31</text>
<line x1="343.8" y1="1404.3" x2="343.8" y2="1410.8" stroke="#000" stroke-width="3.0" stroke-linecap="round"/>
<line x1="554.9" y1="1404.3" x2="554.9" y2="1410.8" stroke="#000" stroke-width="3.0" stroke-linecap="round"/>
<line x1="996.9" y1="1404.0" x2="996.9" y2="1410.5" stroke="#000" stroke-width="3.0" stroke-linecap="round"/>
<line x1="1208.0" y1="1404.0" x2="1208.0" y2="1410.5" stroke="#000" stroke-width="3.0" stroke-linecap="round"/>
<text x="344.2" y="1446.9" font-size="24.5" text-anchor="middle" font-weight="bold" font-family="'Liberation Sans', Arial, sans-serif" >C400</text>
<text x="555.0" y="1446.9" font-size="24.5" text-anchor="middle" font-weight="bold" font-family="'Liberation Sans', Arial, sans-serif" >C800</text>
<text x="996.6" y="1446.9" font-size="24.5" text-anchor="middle" font-weight="bold" font-family="'Liberation Sans', Arial, sans-serif" >C400</text>
<text x="1207.6" y="1446.9" font-size="24.5" text-anchor="middle" font-weight="bold" font-family="'Liberation Sans', Arial, sans-serif" >C800</text>
<text transform="translate(30.0,356.0) rotate(-90)" x="0" y="0" text-anchor="start" font-size="31.7" font-weight="bold" font-family="'Liberation Serif', 'Times New Roman', serif"><tspan font-style="italic" font-size="35">P</tspan><tspan dx="-1" dy="7.5" font-size="22">n</tspan><tspan dy="-7.5"> (µmol m</tspan><tspan dx="2" dy="-12" font-size="17">-2</tspan><tspan dy="12"> s</tspan><tspan dy="-12" font-size="17">-1</tspan><tspan dy="12"> )</tspan></text>
<text transform="translate(36.1,801.0) rotate(-90)" x="0" y="0" text-anchor="start" font-size="31.7" font-weight="bold" font-family="'Liberation Serif', 'Times New Roman', serif"><tspan font-style="italic">g</tspan><tspan dx="-1" dy="9.5" font-size="20">s</tspan><tspan dy="-9.5"> (mol m</tspan><tspan dx="1" dy="-10" font-size="17.5">-2</tspan><tspan dy="10"> s</tspan><tspan dy="-10" font-size="17.5">-1</tspan><tspan dy="10">)</tspan></text>
<text transform="translate(42.1,1307.6) rotate(-90)" x="0" y="0" text-anchor="start" font-size="31.7" font-weight="bold" font-family="'Liberation Serif', 'Times New Roman', serif"><tspan font-style="italic">WUE</tspan> (µmol mmol<tspan dy="-10" font-size="17.5">-1</tspan><tspan dy="10">)</tspan></text>
<text transform="translate(1509.6,352.5) rotate(-90)" x="0" y="0" text-anchor="start" font-size="31.7" font-weight="bold" font-family="'Liberation Serif', 'Times New Roman', serif"><tspan font-style="italic" font-size="34">R</tspan><tspan dx="-1" dy="7.5" font-size="22">d</tspan><tspan dy="-7.5"> (µmol m</tspan><tspan dx="1" dy="-7" font-size="18">-2</tspan><tspan dy="7"> s</tspan><tspan dy="-7" font-size="18">-1</tspan><tspan dy="7">)</tspan></text>
<text transform="translate(1509.3,822.5) rotate(-90)" x="0" y="0" text-anchor="start" font-size="31.7" font-weight="bold" font-family="'Liberation Serif', 'Times New Roman', serif"><tspan font-style="italic" font-size="36">E</tspan><tspan dx="6"> (mmol m</tspan><tspan dx="1" dy="-7" font-size="18">-2</tspan><tspan dy="7"> s</tspan><tspan dy="-7" font-size="18">-1</tspan><tspan dy="7">)</tspan></text>
<text transform="translate(1516.9,1182.4) rotate(-90)" x="0" y="0" text-anchor="start" font-size="32.5" font-weight="bold" font-family="'Liberation Serif', 'Times New Roman', serif"><tspan font-style="italic">F</tspan><tspan dx="0" dy="8.5" font-size="22" font-style="italic">v</tspan><tspan dy="-8.5"> </tspan><tspan font-style="italic">/</tspan> F<tspan dx="0" dy="8.5" font-size="22" font-style="italic">m</tspan></text>
<text x="556.5" y="1512.8" text-anchor="start" font-size="36.8" font-weight="bold" font-family="'Liberation Serif', 'Times New Roman', serif">CO<tspan dy="7.5" font-size="22.5">2</tspan><tspan dy="-7.5"> concentration (</tspan><tspan font-style="italic" font-weight="normal">µ</tspan>mol mol<tspan dy="-12" font-size="21">-1</tspan><tspan dy="12">)</tspan></text>
</svg>
</body></html>
